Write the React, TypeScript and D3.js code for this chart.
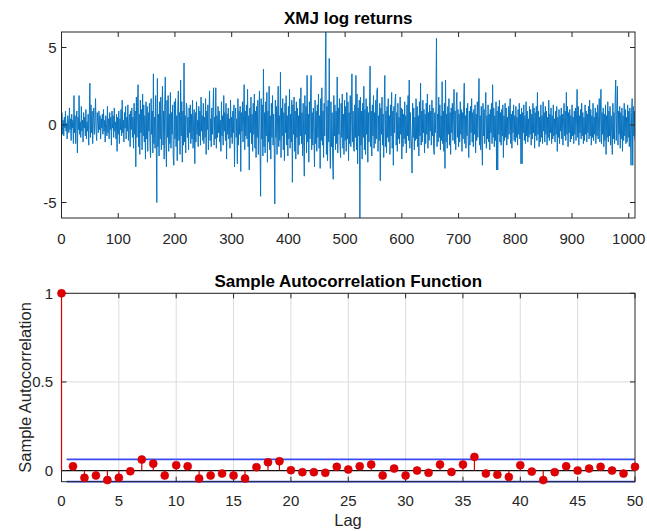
import React, { useEffect } from "react";
import * as d3 from "d3";

// ---- Data ----
const returnsTitle = "XMJ log returns";
const acfTitle = "Sample Autocorrelation Function";
const returnsXTicks = [0, 100, 200, 300, 400, 500, 600, 700, 800, 900, 1000];
const returnsYTicks = [-5, 0, 5];
const acfXTicks = [0, 5, 10, 15, 20, 25, 30, 35, 40, 45, 50];
const acfYTicks = [0, 0.5, 1];
const acfYTickLabels = ["0", "0.5", "1"];

const logReturns: number[] = [
  0.8,-0.6,0.3,-0.7,0.5,-0.2,0.9,-0.4,0.1,-0.9,0.6,0.2,-0.5,1.1,-0.3,0.4,-1.0,0.7,-0.2,0.3,-1.2,1.9,-0.5,0.6,-1.2,
  0.4,0.9,-1.8,0.5,-0.3,1.9,-0.6,0.2,-0.8,1.2,-0.4,0.3,-1.1,0.8,-0.2,0.5,-0.7,1.0,-0.9,0.2,-0.4,0.7,-1.3,0.6,2.7,
  -0.8,1.3,-0.5,0.9,-1.2,0.4,1.1,-0.6,0.3,1.7,-0.4,-1.0,0.8,0.2,-0.5,0.9,-0.3,0.6,-0.9,0.4,-0.2,0.7,-0.6,1.0,-0.4,
  0.3,-1.1,0.6,0.1,-0.7,1.2,-0.5,0.4,-0.9,0.8,-0.3,0.5,-1.3,0.9,-0.2,0.6,-0.8,1.1,-0.4,0.2,-0.9,0.7,-1.7,0.5,-0.6,
  0.9,-1.2,0.4,-0.3,1.0,-0.7,1.6,-0.5,0.3,-1.1,0.8,-0.2,1.2,-0.9,0.5,-0.4,1.3,-1.0,0.2,0.7,-1.4,0.9,-0.3,1.1,-0.8,
  0.5,-1.5,1.4,-0.6,0.9,-2.7,1.8,-0.8,1.2,2.6,-1.4,0.7,-1.9,1.6,-0.5,1.0,-1.6,2.0,-0.7,1.3,-1.1,0.6,-2.2,1.5,-0.9,
  1.2,-1.7,0.8,-0.4,1.4,-1.3,-2.1,1.7,-0.6,0.9,-1.8,3.3,-1.2,0.5,-1.5,1.9,-0.8,-5.0,3.0,-1.4,0.7,-2.0,1.5,-0.9,1.8,
  -1.6,0.6,2.5,-1.3,0.9,-2.2,1.4,3.1,-1.1,-2.7,1.6,-0.8,1.9,-1.7,0.7,-1.2,2.1,-1.5,0.8,-0.6,1.3,-2.0,-2.6,1.5,-0.9,
  1.7,-1.4,0.6,-2.3,1.2,2.2,-1.0,0.8,-1.9,2.9,-0.7,1.5,-2.4,0.9,-1.3,4.0,-1.1,0.6,-1.8,1.4,1.2,-0.8,0.5,-1.6,1.1,
  -0.5,1.3,-1.2,0.7,-0.9,1.6,-1.5,0.4,1.0,-2.5,0.8,-1.1,1.5,-0.6,0.3,-1.4,1.2,-0.7,0.9,-1.3,1.8,-0.4,0.6,-1.0,1.4,
  -1.2,0.5,-0.8,1.7,-1.9,0.9,-0.3,1.3,-1.6,0.7,2.2,-1.0,0.4,-1.4,1.1,-0.6,0.8,2.4,-1.3,0.5,-0.9,2.4,-1.5,0.6,-0.8,
  1.2,-0.5,0.9,-1.1,0.3,-1.7,1.5,-0.7,0.6,-1.3,1.9,-0.4,0.8,-1.0,1.4,-2.2,0.7,-0.6,1.1,-0.9,0.4,-1.5,1.6,-0.8,0.5,
  -1.2,0.9,-0.5,1.3,-2.7,0.6,1.1,-0.8,0.4,-2.5,1.7,-1.3,0.9,-0.6,1.2,-3.0,0.8,-0.4,1.5,-1.1,0.7,2.6,-1.6,0.9,-0.7,
  1.3,-0.9,2.3,-1.4,0.6,-2.9,1.1,-0.5,1.8,-1.2,0.7,-1.7,1.4,-0.6,2.0,-1.5,0.9,-2.1,1.2,-0.8,1.6,-1.9,0.5,2.2,-1.3,
  -4.6,1.7,-0.9,1.3,-2.0,3.6,-1.4,0.8,-1.8,1.5,-0.7,2.1,-2.4,0.9,-1.1,2.5,-1.6,0.6,-2.2,1.4,-0.8,1.9,-1.3,0.7,-1.5,
  -5.1,1.6,-0.8,1.2,-1.9,0.9,2.5,-1.4,0.6,-1.0,3.4,-2.1,1.1,-0.7,1.7,-1.6,0.8,-2.3,1.4,-0.5,1.9,-1.3,0.6,-2.0,1.2,
  -0.9,2.3,-1.5,0.7,-1.1,1.6,-3.7,1.3,-0.6,1.8,-1.7,0.9,-2.2,1.5,-0.8,1.1,-1.9,0.6,-1.3,1.7,-0.7,2.4,-1.2,0.8,-2.0,
  1.4,-1.0,-3.3,1.9,-0.6,1.2,-1.8,3.2,-1.1,0.7,-2.4,1.5,-0.9,1.8,3.2,-1.6,0.8,-1.3,1.1,-0.5,-2.7,1.6,-1.2,0.9,-1.7,
  1.3,-0.8,2.0,-1.5,0.6,-2.8,1.7,-1.0,2.4,-1.3,0.9,-2.1,1.4,-0.7,2.9,6.0,-1.9,1.2,-2.3,1.6,-1.1,4.3,-0.9,-2.8,1.5,
  -1.4,0.8,-2.0,-3.5,1.9,-0.7,1.3,-1.6,0.9,-1.2,3.1,-1.8,1.1,-0.6,1.7,-1.3,-2.1,1.4,-0.8,2.0,-1.5,0.7,-1.9,1.6,-1.0,
  1.2,-1.7,2.1,-0.9,1.5,-2.3,0.8,-1.2,1.9,-1.4,0.6,3.3,-1.1,0.9,-1.5,-1.7,1.3,-0.8,3.2,-1.6,2.0,-2.5,1.1,-0.7,1.6,
  -6.0,1.8,-1.3,0.9,-2.2,1.4,-0.8,2.5,-1.6,1.0,-1.9,1.7,-0.6,1.2,-2.4,0.8,-1.1,1.5,3.8,-1.4,0.9,-2.0,1.3,-0.7,1.9,
  -1.5,0.8,-1.2,1.6,-0.9,2.2,2.4,-1.7,0.6,-1.0,1.4,-3.6,1.1,-0.6,1.8,-1.3,0.7,-2.1,1.5,3.2,-1.4,0.9,-1.8,1.2,-0.8,
  1.7,-1.1,0.6,-1.9,1.3,-0.7,2.1,-1.5,0.9,-2.6,1.2,-0.5,1.6,2.0,-1.3,0.8,-1.7,1.4,-0.9,0.5,-1.2,1.8,-0.6,1.1,-2.2,
  1.0,-1.4,0.7,-0.9,1.5,-1.2,0.6,-1.8,1.3,-0.7,1.9,-1.0,2.9,-1.5,0.8,-0.6,-1.3,-3.1,1.4,-0.8,1.1,-1.6,0.5,-1.0,1.7,
  -0.9,1.2,-1.4,0.6,-2.0,1.5,-0.7,2.7,-1.3,0.9,-1.1,1.6,-0.5,1.0,-1.8,0.7,-1.2,1.4,-0.6,2.0,-1.5,0.8,-1.0,1.3,-0.4,
  0.9,-1.3,1.6,-0.7,1.1,-1.5,-1.9,0.8,-0.5,1.2,5.6,-1.4,0.7,-1.1,1.8,-0.8,1.3,-1.6,0.6,-1.0,2.8,-1.2,0.9,-1.7,1.4,
  -2.8,2.9,-1.1,0.7,-1.5,1.2,-0.6,1.7,-1.3,0.8,-1.9,1.1,-0.5,1.4,-1.0,0.6,2.3,-1.2,0.9,-1.6,1.3,2.1,-0.8,1.0,-1.4,
  0.7,-1.1,1.5,-0.6,1.0,-1.7,0.8,-0.9,1.3,2.7,-1.2,0.6,-1.5,1.1,-0.7,1.4,-1.0,-2.1,0.9,-1.3,1.2,-0.5,1.7,-1.1,0.8,
  -1.4,1.0,-0.6,1.3,-1.8,0.7,-1.0,1.5,-0.8,1.1,3.0,-1.3,0.6,-1.6,1.2,-0.9,-2.6,1.4,-0.7,1.0,-1.2,0.8,2.1,-1.5,0.6,
  -0.9,1.3,-1.1,0.7,-1.6,1.0,-0.5,1.4,-1.2,2.6,-0.8,1.1,-1.4,0.6,-1.0,1.5,-2.9,0.9,-2.9,1.2,-0.6,1.6,-1.1,0.8,-1.3,
  1.0,-0.7,1.3,-2.1,0.6,-1.0,1.4,-0.8,1.1,-1.3,0.5,-0.9,1.2,-0.6,1.0,1.7,-1.2,0.7,-1.5,0.9,-0.5,1.3,-1.0,0.6,-1.1,
  1.2,-0.8,0.5,-1.3,1.0,-0.6,1.4,-0.9,0.7,-2.5,1.1,-2.5,0.8,-0.5,1.3,-1.0,0.6,-1.2,1.5,-0.7,0.9,-1.1,0.4,-0.8,1.2,
  -0.6,1.0,-1.3,0.7,-0.9,1.4,-0.5,1.1,-1.5,0.8,-0.7,1.2,-1.0,2.1,-0.6,0.9,-1.4,0.5,-1.1,1.3,-0.8,0.6,-1.2,1.5,-0.4,
  0.8,-1.1,1.2,-0.6,0.9,-1.3,0.5,-0.8,1.6,-1.0,0.7,-0.5,1.1,-1.2,0.6,-0.9,1.3,-0.7,0.4,-1.1,0.9,-0.6,1.2,-1.7,0.5,
  -0.8,1.0,-1.2,0.6,-0.4,1.1,-0.9,0.7,-1.3,0.5,1.4,-0.7,0.9,-1.0,2.1,-0.6,1.2,-1.4,0.8,-0.5,1.0,-1.1,0.6,-0.9,1.3,
  -0.7,0.5,-1.2,0.9,-0.6,1.1,-1.0,0.7,2.3,-0.8,1.2,-1.3,0.6,-0.5,1.0,-0.9,1.4,-0.7,0.8,-1.2,0.5,-1.0,1.3,-0.6,0.9,
  -1.1,0.7,-0.5,1.2,-0.9,1.6,-0.7,1.0,-1.3,0.6,-0.8,1.4,-1.0,0.5,-0.6,1.1,-1.2,0.8,-0.7,1.3,-0.9,0.6,1.7,-1.1,0.9,
  2.3,-1.2,0.8,-0.6,1.1,-1.4,0.7,-1.0,1.3,-1.9,0.6,-0.8,1.5,-1.1,0.9,-0.7,1.2,-1.3,0.6,-0.5,-1.9,1.4,-0.9,0.8,-1.2,
  1.6,2.9,-1.0,0.7,2.5,-1.3,0.9,-0.6,1.2,-1.5,0.8,-0.9,1.1,-1.7,0.6,-1.0,1.4,-0.7,1.0,-1.2,0.5,-1.1,1.3,-0.8,0.9,
  -1.4,1.1,-0.6,-2.6,0.8,1.7,-2.6,1.2,-0.7,0.9,-1.0
];

const acfLags = d3.range(0, 51);
const acfValues = [
  1.0, 0.024, -0.041, -0.028, -0.054, -0.041, -0.004, 0.062, 0.039, -0.028, 0.030,
  0.024, -0.045, -0.028, -0.017, -0.028, -0.045, 0.019, 0.047, 0.053, 0.002,
  -0.009, -0.009, -0.013, 0.021, 0.006, 0.024, 0.034, -0.028, 0.011, -0.028,
  0.0, -0.013, 0.034, -0.008, 0.034, 0.077, -0.017, -0.023, -0.036, 0.030,
  -0.006, -0.054, -0.009, 0.024, 0.0, 0.011, 0.021, 0.0, -0.017, 0.021
];
const acfBound = [0.0629];

// ---- Layout ----
const W = 647;
const H = 531;
const FONT = "'Liberation Sans', Arial, Helvetica, sans-serif";
const AXIS = "#262626";
const LEFT = 61.5;
const RIGHT = 635;
const TOP1 = 32, BOT1 = 218;
const TOP2 = 293.3, BOT2 = 481.7;
const TICK = 5;

export default function App() {
  useEffect(() => {
    document.body.style.margin = "0";
    document.body.style.overflow = "hidden";
  }, []);

  const x1 = d3.scaleLinear().domain([0, 1011]).range([LEFT, RIGHT]);
  const y1 = d3.scaleLinear().domain([-6, 6]).range([BOT1, TOP1]);
  const x2 = d3.scaleLinear().domain([0, 50]).range([LEFT, RIGHT]);
  const y2 = d3.scaleLinear().domain([-acfBound[0], 1]).range([BOT2, TOP2]);

  const linePath = d3
    .line<number>()
    .x((_, i) => x1(i + 1))
    .y((d) => y1(d))(logReturns) || "";

  return (
    <div style={{ position: "absolute", left: 0, top: 0, width: W, height: H, overflow: "hidden" }}>
      <svg width={W} height={H} style={{ display: "block", background: "#fff" }} fontFamily={FONT}>
        <rect x={0} y={0} width={W} height={H} fill="#fff" />
        {/* ---------- Top plot ---------- */}
        <defs>
          <clipPath id="clip1">
            <rect x={LEFT} y={TOP1} width={RIGHT - LEFT} height={BOT1 - TOP1} />
          </clipPath>
        </defs>
        <path d={linePath} fill="none" stroke="#0b74bf" strokeWidth={1} strokeLinejoin="round" clipPath="url(#clip1)" />
        <rect x={LEFT} y={TOP1} width={RIGHT - LEFT} height={BOT1 - TOP1} fill="none" stroke={AXIS} strokeWidth={1} />
        {returnsXTicks.map((t) => (
          <g key={"x1" + t}>
            <line x1={x1(t)} x2={x1(t)} y1={BOT1} y2={BOT1 - TICK} stroke={AXIS} />
            <line x1={x1(t)} x2={x1(t)} y1={TOP1} y2={TOP1 + TICK} stroke={AXIS} />
            <text x={x1(t)} y={243.5} textAnchor="middle" fontSize={15} fill={AXIS}>{t}</text>
          </g>
        ))}
        {returnsYTicks.map((t) => (
          <g key={"y1" + t}>
            <line x1={LEFT} x2={LEFT + TICK} y1={y1(t)} y2={y1(t)} stroke={AXIS} />
            <line x1={RIGHT} x2={RIGHT - TICK} y1={y1(t)} y2={y1(t)} stroke={AXIS} />
            <text x={56.5} y={y1(t) + 5.3} textAnchor="end" fontSize={15} fill={AXIS}>{t}</text>
          </g>
        ))}
        <text x={(LEFT + RIGHT) / 2} y={23.5} textAnchor="middle" fontSize={17} fontWeight="bold" fill="#000">
          {returnsTitle}
        </text>

        {/* ---------- Bottom plot ---------- */}
        {acfXTicks.slice(1, -1).map((t) => (
          <line key={"gx" + t} x1={x2(t)} x2={x2(t)} y1={TOP2} y2={BOT2} stroke="#dcdcdc" strokeWidth={1} />
        ))}
        {acfYTicks.map((t) => (
          <line key={"gy" + t} x1={LEFT} x2={RIGHT} y1={y2(t)} y2={y2(t)} stroke="#dcdcdc" strokeWidth={1} />
        ))}
        <line x1={x2(0)} x2={x2(50)} y1={y2(0)} y2={y2(0)} stroke="#111" strokeWidth={1.3} />
        <line x1={x2(0.45)} x2={x2(50)} y1={y2(acfBound[0])} y2={y2(acfBound[0])} stroke="#3a4cf0" strokeWidth={1.7} />
        <line x1={x2(0.45)} x2={x2(50)} y1={y2(-acfBound[0])} y2={y2(-acfBound[0])} stroke="#3a4cf0" strokeWidth={1.7} />
        <rect x={LEFT} y={TOP2} width={RIGHT - LEFT} height={BOT2 - TOP2} fill="none" stroke={AXIS} strokeWidth={1} />
        {acfXTicks.map((t) => (
          <g key={"x2" + t}>
            <line x1={x2(t)} x2={x2(t)} y1={BOT2} y2={BOT2 - TICK} stroke={AXIS} />
            <line x1={x2(t)} x2={x2(t)} y1={TOP2} y2={TOP2 + TICK} stroke={AXIS} />
            <text x={x2(t)} y={505.5} textAnchor="middle" fontSize={15} fill={AXIS}>{t}</text>
          </g>
        ))}
        {acfYTicks.map((t, i) => (
          <g key={"y2" + t}>
            <line x1={LEFT} x2={LEFT + TICK} y1={y2(t)} y2={y2(t)} stroke={AXIS} />
            <line x1={RIGHT} x2={RIGHT - TICK} y1={y2(t)} y2={y2(t)} stroke={AXIS} />
            <text x={53} y={y2(t) + 5.3} textAnchor="end" fontSize={15} fill={AXIS}>{acfYTickLabels[i]}</text>
          </g>
        ))}
        {acfLags.map((lag, i) => (
          <line key={"s" + lag} x1={x2(lag)} x2={x2(lag)} y1={y2(0)} y2={y2(acfValues[i])} stroke="#d40000" strokeWidth={1.2} />
        ))}
        {acfLags.map((lag, i) => (
          <circle key={"m" + lag} cx={x2(lag)} cy={y2(acfValues[i])} r={4} fill="#e00000" stroke="#c80010" strokeWidth={0.6} />
        ))}
        <text x={(LEFT + RIGHT) / 2} y={286.7} textAnchor="middle" fontSize={17} fontWeight="bold" fill="#000">
          {acfTitle}
        </text>
        <text x={348} y={526} textAnchor="middle" fontSize={16.5} fill={AXIS}>Lag</text>
        <text
          transform={`translate(31, ${(298 + 477) / 2}) rotate(-90)`}
          textAnchor="middle"
          fontSize={16.5}
          fill={AXIS}
        >
          Sample Autocorrelation
        </text>
      </svg>
    </div>
  );
}
